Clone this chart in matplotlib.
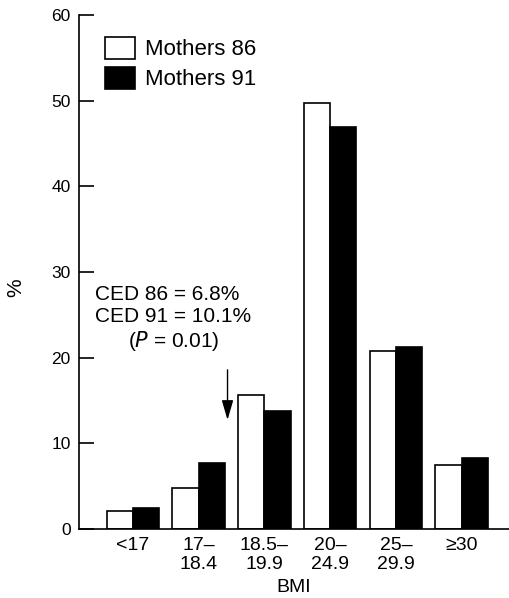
import matplotlib
matplotlib.use("Agg")
import matplotlib.pyplot as plt
import numpy as np

categories = ["<17", "17–\n18.4", "18.5–\n19.9", "20–\n24.9", "25–\n29.9", "≥30"]
mothers86 = [2.1, 4.8, 15.6, 49.7, 20.8, 7.5]
mothers91 = [2.5, 7.7, 13.8, 46.9, 21.2, 8.3]
yticks = [0, 10, 20, 30, 40, 50, 60]

plt.rcParams['font.family'] = ['Liberation Sans', 'DejaVu Sans']

fig = plt.figure(figsize=(5.09, 5.98), dpi=100)
ax = fig.add_axes([0.155, 0.1154, 0.845, 0.8596])

x = np.arange(len(categories))
w = 0.4
ax.bar(x - w/2, mothers86, width=w, color="white", edgecolor="black", linewidth=1.2, label="Mothers 86")
ax.bar(x + w/2, mothers91, width=w, color="black", edgecolor="black", linewidth=1.2, label="Mothers 91")

ax.set_xlim(-0.82, 5.72)
ax.set_ylim(0, 60)
ax.set_yticks(yticks)
ax.set_xticks(x)
ax.set_xticklabels(categories, fontsize=14, linespacing=1.15)
ax.tick_params(axis='x', length=0, pad=6)
ax.tick_params(axis='y', direction='in', length=11, width=1.2, labelsize=12.5, pad=6)
for s in ["top", "right"]:
    ax.spines[s].set_visible(False)
ax.spines["left"].set_linewidth(1.2)
ax.spines["bottom"].set_linewidth(1.2)

ax.set_xlabel("BMI", fontsize=14, labelpad=4)
ax.set_ylabel("%", fontsize=15)
ax.yaxis.set_label_coords(-0.125, 0.47)

leg = ax.legend(loc="upper left", bbox_to_anchor=(0.04, 0.975), frameon=False,
                fontsize=16, handlelength=1.35, handleheight=1.15, handletextpad=0.45,
                labelspacing=0.3, borderaxespad=0)

fig.text(95 / 509, 1 - 295 / 598, "CED 86 = 6.8%", fontsize=15, ha="left", va="center")
fig.text(95 / 509, 1 - 317 / 598, "CED 91 = 10.1%", fontsize=15, ha="left", va="center")
fig.text(174 / 509, 1 - 341 / 598, r"($\mathit{P}$ = 0.01)", fontsize=15, ha="center", va="center")

ax.annotate("", xy=(1.44, 12.4), xytext=(1.44, 18.9),
            arrowprops=dict(arrowstyle="-|>,head_width=0.35,head_length=1.2", color="black", lw=1.0))

fig.savefig("out.png", dpi=100)
